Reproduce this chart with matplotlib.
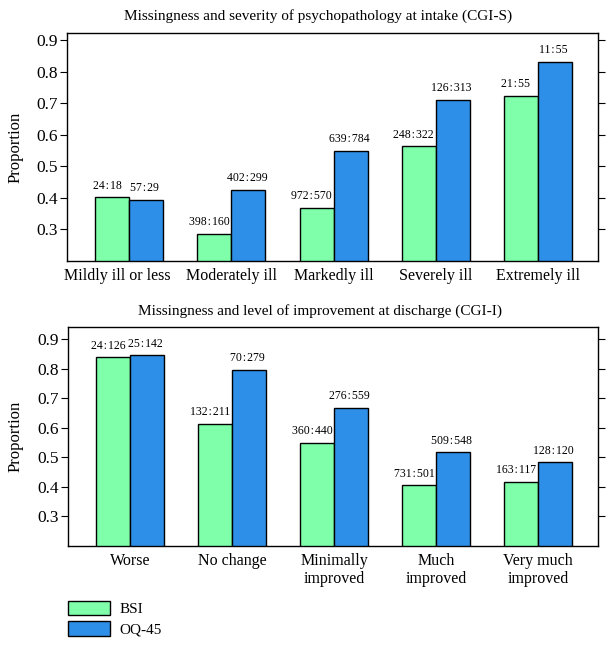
import matplotlib
matplotlib.use("Agg")
import matplotlib.pyplot as plt
import matplotlib.transforms as mtrans
import numpy as np
from matplotlib.patches import Patch

plt.rcParams['font.family'] = ['Liberation Serif', 'DejaVu Serif']

# intake (CGI-S)
cats_s = ['Mildly ill or less', 'Moderately ill', 'Markedly ill', 'Severely ill', 'Extremely ill']
bsi_s = [0.402, 0.286, 0.369, 0.563, 0.724]
oq_s = [0.393, 0.425, 0.549, 0.710, 0.830]
bsi_s_lab = ['24:18', '398:160', '972:570', '248:322', '21:55']
oq_s_lab = ['57:29', '402:299', '639:784', '126:313', '11:55']

# discharge (CGI-I)
cats_i = ['Worse', 'No change', 'Minimally\nimproved', 'Much\nimproved', 'Very much\nimproved']
bsi_i = [0.838, 0.614, 0.549, 0.405, 0.417]
oq_i = [0.846, 0.797, 0.668, 0.517, 0.483]
bsi_i_lab = ['24:126', '132:211', '360:440', '731:501', '163:117']
oq_i_lab = ['25:142', '70:279', '276:559', '509:548', '128:120']

green = '#80ffaa'
blue = '#2e8fe8'

fig = plt.figure(figsize=(6.16, 6.46), dpi=100)
W, H = 616.0, 646.0


def spaced(s):
    # hair spaces round the colon, like the original
    return s.replace(':', '\u200a:\u200a')


def draw(ax, cats, bsi, oq, bl, ol, ytop):
    x = np.arange(len(cats))
    w = 0.333
    ax.bar(x - w/2, bsi, w, color=green, edgecolor='black', linewidth=1.0)
    ax.bar(x + w/2, oq, w, color=blue, edgecolor='black', linewidth=1.0)
    for i in range(len(cats)):
        ax.annotate(spaced(bl[i]), (x[i] - w/2, bsi[i]), xytext=(-3.5, 4), textcoords='offset points',
                    ha='center', va='bottom', fontsize=8.5)
        ax.annotate(spaced(ol[i]), (x[i] + w/2, oq[i]), xytext=(-1, 4), textcoords='offset points',
                    ha='center', va='bottom', fontsize=8.5)
    ax.set_xlim(-0.61, 4.59)
    ax.set_ylim(0.2, ytop)
    ax.set_yticks([0.3, 0.4, 0.5, 0.6, 0.7, 0.8, 0.9])
    ax.set_xticks(x)
    ax.set_xticklabels(cats, fontsize=11.5, linespacing=1.15)
    ax.tick_params(axis='x', length=0, pad=5)
    ax.tick_params(axis='y', direction='out', length=5, pad=1.5, labelsize=12.5, right=True)
    ax.set_ylabel('Proportion', fontsize=12)
    for s in ax.spines.values():
        s.set_linewidth(1.0)


ax1 = fig.add_axes([67/W, 1 - 261/H, 531/W, 228/H])
draw(ax1, cats_s, bsi_s, oq_s, bsi_s_lab, oq_s_lab, 0.922)
ax1.yaxis.set_label_coords(-0.081, 0.5)
# first category label sits a little to the left in the original
lab0 = ax1.get_xticklabels()[0]
lab0.set_transform(lab0.get_transform() + mtrans.ScaledTranslation(-12/100, 0, fig.dpi_scale_trans))

ax2 = fig.add_axes([68/W, 1 - 546/H, 530/W, 219.3/H])
draw(ax2, cats_i, bsi_i, oq_i, bsi_i_lab, oq_i_lab, 0.942)
ax2.yaxis.set_label_coords(-0.083, 0.5)

fig.text(318/W, 1 - 16/H, 'Missingness and severity of psychopathology at intake (CGI-S)',
         ha='center', va='center', fontsize=11)
fig.text(320/W, 1 - 311/H, 'Missingness and level of improvement at discharge (CGI-I)',
         ha='center', va='center', fontsize=11)

handles = [Patch(facecolor=green, edgecolor='black', label='BSI'),
           Patch(facecolor=blue, edgecolor='black', label='OQ-45')]
fig.legend(handles=handles, loc='upper left', bbox_to_anchor=(54/W, 1 - 587/H),
           frameon=False, fontsize=11, handlelength=2.75, handleheight=1.1,
           labelspacing=0.3, handletextpad=0.65)

fig.savefig('out.png', dpi=100)
